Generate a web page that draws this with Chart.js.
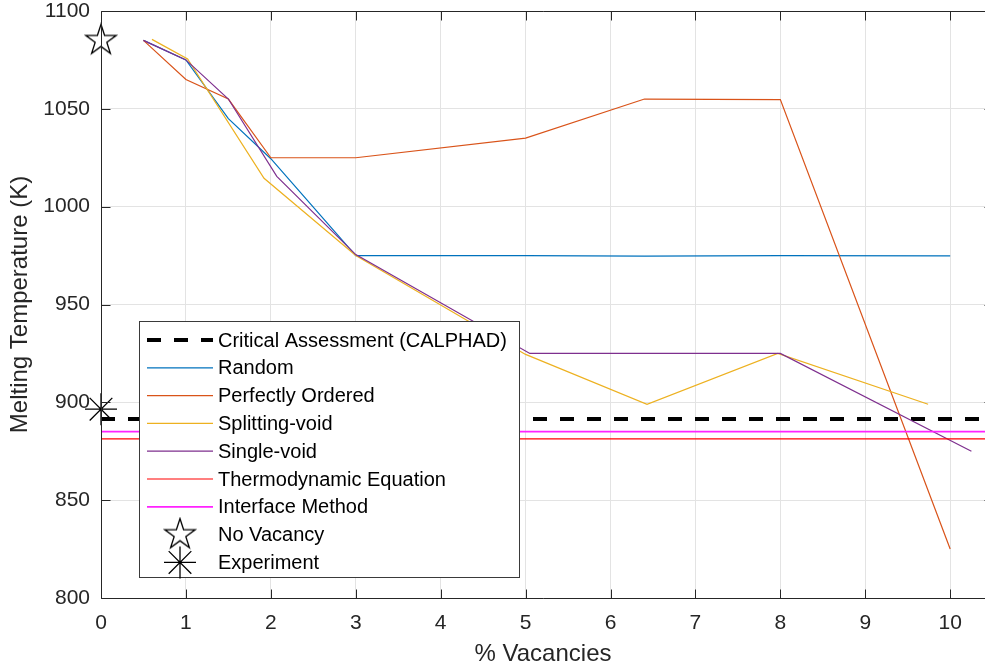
<!DOCTYPE html>
<html>
<head>
<meta charset="utf-8">
<title>Melting temperature vs vacancies</title>
<script src="https://cdn.jsdelivr.net/npm/chart.js@4.4.1/dist/chart.umd.min.js"></script>
<style>
  html, body { margin: 0; padding: 0; background: #fff; }
  #wrap { width: 985px; height: 669px; }
</style>
</head>
<body>
<div id="wrap"><canvas id="meltChart" width="985" height="669"></canvas></div>
<script>
// axis ticks
const xTicks = [0, 1, 2, 3, 4, 5, 6, 7, 8, 9, 10];
const yTicks = [800, 850, 900, 950, 1000, 1050, 1100];

// simulated melting temperatures (K) vs % vacancies
const randomX  = [0.5, 1, 1.5, 2, 3, 5, 6.4, 8, 10];
const randomY  = [1085, 1075, 1045, 1024.5, 975, 975, 974.7, 975, 974.8];
const orderedX = [0.5, 1, 1.5, 2, 3, 5, 6.4, 8, 10];
const orderedY = [1085, 1065, 1055, 1025, 1025, 1035, 1055, 1054.7, 825];
const splitX   = [0.6, 1.02, 1.92, 3, 5, 6.43, 7.97, 9.74];
const splitY   = [1085.5, 1075.5, 1014.5, 975, 924.5, 899, 925, 899];
const singleX  = [0.5, 1, 1.5, 2.07, 3, 5.05, 8, 10.25];
const singleY  = [1085, 1075, 1055, 1015.5, 975.5, 925, 925, 875];

// reference levels, drawn across the whole x range
const spanX    = [0, 10.5];
const calphadY = [891.5, 891.5];
const thermoY  = [881.3, 881.3];
const ifaceY   = [885, 885];

// single points at 0 % vacancies
const noVacX = [0];
const noVacY = [1085];
const exptX  = [0];
const exptY  = [896.5];

// the axes run on to 10.5; the canvas cuts them a little before that
const X_MAX_VISIBLE = 10.41;
const X_MAX_AXIS = 10.5;

const FONT = "'Liberation Sans', Arial, Helvetica, sans-serif";
const AXIS_COLOR = '#262626';

function zip(xs, ys) {
  return xs.map((x, i) => ({ x, y: ys[i] }));
}

// MATLAB style five-point star marker as an image
function pentagram(r, lw) {
  const size = Math.ceil(r * 2 + 4);
  const c = document.createElement('canvas');
  c.width = size; c.height = size;
  const g = c.getContext('2d');
  const cx = size / 2, cy = size / 2;
  g.beginPath();
  for (let k = 0; k < 10; k++) {
    const a = -Math.PI / 2 + k * Math.PI / 5;
    const rr = k % 2 === 0 ? r : r * 0.382;
    const px = cx + rr * Math.cos(a), py = cy + rr * Math.sin(a);
    if (k === 0) g.moveTo(px, py); else g.lineTo(px, py);
  }
  g.closePath();
  g.lineWidth = lw;
  g.strokeStyle = '#000';
  g.stroke();
  return c;
}

const starImg = pentagram(16, 1.3);

function lineSet(label, data, color, width, extra) {
  return Object.assign({
    label, data,
    borderColor: color,
    backgroundColor: color,
    borderWidth: width,
    pointRadius: 0,
    pointHoverRadius: 0,
    tension: 0,
    fill: false,
    clip: false,
  }, extra || {});
}

const datasets = [
  lineSet('Critical Assessment (CALPHAD)', zip(spanX, calphadY), '#000000', 4, { borderDash: [14, 13] }),
  lineSet('Random', zip(randomX, randomY), '#0072BD', 1.2),
  lineSet('Perfectly Ordered', zip(orderedX, orderedY), '#D95319', 1.2),
  lineSet('Splitting-void', zip(splitX, splitY), '#EDB120', 1.2),
  lineSet('Single-void', zip(singleX, singleY), '#7E2F8E', 1.2),
  lineSet('Thermodynamic Equation', zip(spanX, thermoY), '#FF0000', 1.2),
  lineSet('Interface Method', zip(spanX, ifaceY), '#FF22FF', 1.8),
  {
    label: 'No Vacancy', data: zip(noVacX, noVacY), showLine: false,
    pointStyle: starImg, pointRadius: 16, clip: false,
    borderColor: '#000', backgroundColor: 'transparent',
  },
  {
    label: 'Experiment', data: zip(exptX, exptY), showLine: false,
    pointStyle: 'star', pointRadius: 16, pointBorderWidth: 1.3, clip: false,
    borderColor: '#000', backgroundColor: 'transparent',
  },
];
// later series sit on top, like the plot call order
datasets.forEach((d, i) => { d.order = datasets.length - i; });

function drawMarker(ctx, ds, x, y) {
  if (ds.pointStyle instanceof HTMLCanvasElement) {
    const img = ds.pointStyle;
    ctx.drawImage(img, x - img.width / 2, y - img.height / 2);
    return;
  }
  const r = ds.pointRadius;
  ctx.save();
  ctx.strokeStyle = ds.borderColor;
  ctx.lineWidth = ds.pointBorderWidth || 1;
  ctx.beginPath();
  for (let k = 0; k < 4; k++) {
    const a = k * Math.PI / 4;
    ctx.moveTo(x - r * Math.cos(a), y - r * Math.sin(a));
    ctx.lineTo(x + r * Math.cos(a), y + r * Math.sin(a));
  }
  ctx.stroke();
  ctx.restore();
}

// no extra room for edge labels; the axes fill the canvas
function noPad(s) {
  s.paddingLeft = 0; s.paddingRight = 0;
  s.paddingTop = 0; s.paddingBottom = 0;
}

// box, inward ticks and the legend inside the axes
const matlabFrame = {
  id: 'matlabFrame',
  afterDraw(chart) {
    const { ctx, chartArea: a, scales } = chart;
    const L = Math.round(a.left) + 0.5;
    const R = Math.round(scales.x.getPixelForValue(X_MAX_AXIS)) + 0.5;
    const T = Math.round(a.top) + 0.5, B = Math.round(a.bottom) + 0.5;
    const tl = 9;
    ctx.save();
    ctx.strokeStyle = AXIS_COLOR;
    ctx.lineWidth = 1;
    ctx.beginPath();
    ctx.rect(L, T, R - L, B - T);
    for (const v of xTicks) {
      const px = Math.round(scales.x.getPixelForValue(v)) + 0.5;
      ctx.moveTo(px, B); ctx.lineTo(px, B - tl);
      ctx.moveTo(px, T); ctx.lineTo(px, T + tl);
    }
    for (const v of yTicks) {
      const py = Math.round(scales.y.getPixelForValue(v)) + 0.5;
      ctx.moveTo(L, py); ctx.lineTo(L + tl, py);
      ctx.moveTo(R, py); ctx.lineTo(R - tl, py);
    }
    ctx.stroke();

    // legend
    const box = { left: 139.5, top: 321.5, right: 519.5, bottom: 577.5 };
    ctx.fillStyle = '#fff';
    ctx.fillRect(box.left, box.top, box.right - box.left, box.bottom - box.top);
    ctx.strokeStyle = '#3a3a3a';
    ctx.strokeRect(box.left, box.top, box.right - box.left, box.bottom - box.top);

    ctx.font = '20px ' + FONT;
    ctx.textBaseline = 'middle';
    ctx.textAlign = 'left';
    chart.data.datasets.forEach((ds, i) => {
      const y = box.top + 18.5 + i * 27.8;
      if (ds.showLine === false) {
        drawMarker(ctx, ds, 180, y);
      } else {
        ctx.save();
        ctx.strokeStyle = ds.borderColor;
        ctx.lineWidth = ds.borderWidth;
        ctx.setLineDash(ds.borderDash || []);
        ctx.beginPath();
        ctx.moveTo(147, y); ctx.lineTo(213, y);
        ctx.stroke();
        ctx.restore();
      }
      ctx.fillStyle = '#000';
      ctx.fillText(ds.label, 218, y + 1);
    });
    ctx.restore();
  }
};

new Chart(document.getElementById('meltChart').getContext('2d'), {
  type: 'line',
  data: { datasets },
  options: {
    responsive: false,
    animation: false,
    events: [],
    layout: { autoPadding: false, padding: { top: 11, left: 0, right: 0, bottom: 0 } },
    plugins: { legend: { display: false }, tooltip: { enabled: false } },
    scales: {
      x: {
        type: 'linear',
        min: 0, max: X_MAX_VISIBLE,
        afterBuildTicks: (s) => { s.ticks = xTicks.map(v => ({ value: v })); },
        afterFit: (s) => { s.height = 71; noPad(s); },
        grid: { color: '#e3e3e3', drawTicks: false },
        border: { display: false },
        ticks: {
          color: AXIS_COLOR, padding: 13, maxRotation: 0,
          font: { family: FONT, size: 21 },
          callback: (v) => String(v),
        },
        title: {
          display: true, text: '% Vacancies', color: AXIS_COLOR,
          font: { family: FONT, size: 24 }, padding: { top: 0, bottom: 0 },
        },
      },
      y: {
        type: 'linear',
        min: 800, max: 1100,
        afterBuildTicks: (s) => { s.ticks = yTicks.map(v => ({ value: v })); },
        afterFit: (s) => { s.width = 101; noPad(s); },
        grid: { color: '#e3e3e3', drawTicks: false },
        border: { display: false },
        ticks: {
          color: AXIS_COLOR, padding: 11,
          font: { family: FONT, size: 21 },
          callback: (v) => String(v),
        },
        title: {
          display: true, text: 'Melting Temperature (K)', color: AXIS_COLOR,
          font: { family: FONT, size: 24 }, padding: { top: 6, bottom: 0 },
        },
      },
    },
  },
  plugins: [matlabFrame],
});
</script>
</body>
</html>
